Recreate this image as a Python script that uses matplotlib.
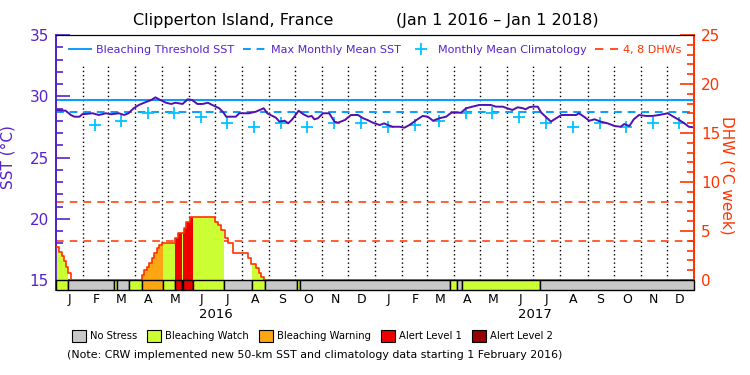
import numpy as np
import matplotlib
matplotlib.use("Agg")
import matplotlib.pyplot as plt
from matplotlib.lines import Line2D
from matplotlib.patches import Patch

# day 0 = 1 Jan 2016
sst_day = [0, 11, 17, 21, 27, 30, 42, 49, 57, 63, 72, 78, 83, 89, 95, 101, 109, 114, 118,
           126, 132, 137, 145, 151, 156, 162, 168, 174, 179, 187, 192, 195, 206, 210, 221,
           229, 238, 242, 252, 256, 262, 266, 270, 273, 278, 283, 289, 293, 296, 300, 306,
           313, 319, 323, 331, 338, 346, 352, 357, 363, 371, 376, 380, 386, 394, 399, 405,
           413, 420, 426, 432, 439, 447, 453, 464, 470, 477, 485, 498, 504, 512, 517, 523,
           529, 535, 538, 542, 546, 552, 556, 561, 567, 573, 579, 596, 599, 605, 611, 617,
           624, 632, 640, 647, 651, 657, 662, 668, 676, 683, 691, 701, 706, 714, 720, 725, 731]
sst_val = [28.88, 28.82, 28.47, 28.33, 28.33, 28.53, 28.61, 28.47, 28.61, 28.53, 28.61, 28.47,
           28.61, 29.02, 29.29, 29.47, 29.69, 29.91, 29.75, 29.47, 29.37, 29.47, 29.37, 29.75,
           29.69, 29.37, 29.37, 29.47, 29.29, 29.02, 28.66, 28.33, 28.33, 28.61, 28.61, 28.74,
           29.02, 28.61, 28.25, 27.93, 28.00, 27.79, 28.06, 28.33, 28.82, 28.55, 28.33, 28.39,
           28.12, 28.20, 28.61, 28.61, 27.93, 27.84, 28.06, 28.47, 28.47, 28.20, 28.06, 27.84,
           27.65, 27.79, 27.65, 27.51, 27.51, 27.43, 27.65, 28.06, 28.39, 28.33, 28.00, 28.20,
           28.33, 28.66, 28.66, 29.02, 29.15, 29.29, 29.29, 29.15, 29.15, 29.02, 28.88, 29.10,
           29.02, 28.93, 29.10, 29.15, 29.15, 28.66, 28.33, 27.93, 28.20, 28.47, 28.47, 28.61,
           28.33, 28.00, 28.12, 27.93, 27.79, 27.57, 27.51, 27.73, 27.57, 28.12, 28.47, 28.39,
           28.39, 28.47, 28.61, 28.39, 28.06, 27.79, 27.51, 27.46]

# monthly mean climatology Jan..Dec
clim_val = [27.50, 27.65, 28.00, 28.66, 28.66, 28.33, 27.84, 27.51, 27.79, 27.46, 27.82, 27.79]
mmm = 28.7
threshold = 29.7

dhw_day = [0, 3.4, 6.5, 9.2, 11.4, 14.1, 17.2, 98, 100.7, 103.8, 106.4, 109.5, 112.1, 115.2,
           118.2, 120.9, 136.1, 139.9, 146.4, 149.5, 153.3, 181.9, 185.7, 189.6, 193.3, 197.1,
           202.8, 220, 223.9, 229.6, 232.6, 235.3, 237.9]
dhw_val = [3.33, 2.89, 2.45, 1.97, 1.29, 0.68, 0, 0.51, 1.02, 1.36, 1.70, 2.21, 2.72, 3.23,
           3.57, 3.74, 4.25, 4.76, 5.27, 5.89, 6.46, 5.95, 5.61, 5.10, 4.25, 3.74,
           2.72, 2.21, 1.63, 1.19, 0.68, 0.27, 0]
dhw_levels = [4, 8]

# 0 no stress, 1 watch, 2 warning, 3 alert 1, 4 alert 2
status_start = [0, 14, 67, 70, 84, 98, 123, 136, 144, 146, 157, 192, 224, 240, 276, 280, 451, 460, 465, 555]
status_end = [14, 67, 70, 84, 98, 123, 136, 144, 146, 157, 192, 224, 240, 276, 280, 451, 460, 465, 555, 731]
status_code = [1, 0, 1, 0, 1, 2, 1, 3, 1, 3, 1, 0, 1, 0, 1, 0, 1, 0, 1, 0]

status_names = ["No Stress", "Bleaching Watch", "Bleaching Warning", "Alert Level 1", "Alert Level 2"]
status_colors = ["#c8c8c8", "#ccff33", "#fba612", "#ee0000", "#990000"]
month_letters = ["J", "F", "M", "A", "M", "J", "J", "A", "S", "O", "N", "D"]
years = [2016, 2017]

purple = "#5522cc"
line_purple = "#5210b0"
red = "#ff3300"
blue = "#0a9cff"
cyan = "#00c4ff"

months = np.arange("2016-01", "2018-02", dtype="datetime64[M]")
month_start = (months.astype("datetime64[D]") - np.datetime64("2016-01-01")).astype(int)

SST_LO = 15 - 10 / 12.25
DHW_LO = (SST_LO - 15) * 1.25

fig = plt.figure(figsize=(7.5, 3.75), dpi=100)
ax = fig.add_axes([56 / 750, 1 - 290 / 375, 638 / 750, 255 / 375])
ax.set_xlim(0, month_start[-1])
ax.set_ylim(SST_LO, 35)
ax2 = ax.twinx()
ax2.set_ylim(DHW_LO, 25)

# month grid
ax.vlines(month_start[1:-1], 15, 32.5, colors="black", linestyles=(0, (1, 2)), lw=1)

# SST, threshold, MMM, climatology
ax.axhline(threshold, color=blue, lw=1.5)
ax.axhline(mmm, color=blue, lw=1.4, ls=(0, (4, 3)))
clim_x = month_start[1:-1] + 14
clim_y = [clim_val[m % 12] for m in range(1, len(clim_x) + 1)]
ax.plot(clim_x, clim_y, ls="none", marker="+", ms=9, mew=1.3, color=cyan)
ax.plot(sst_day, sst_val, color=line_purple, lw=1.4)

# DHW
for lev in dhw_levels:
    ax2.axhline(lev, color=red, lw=1.1, ls=(0, (5, 4)), zorder=1)

dd = np.array(dhw_day)
dv = np.array(dhw_val)
def dhw_at(d):
    return dv[np.searchsorted(dd, d, side="right") - 1]

for s, e, c in zip(status_start, status_end, status_code):
    if c == 0:
        continue
    xs = [s] + [d for d in dhw_day if s < d < e] + [e]
    ys = [dhw_at(x) for x in xs]
    ax2.fill_between(xs, 0, ys, step="post", color=status_colors[c], lw=0, zorder=2)
ax2.step(dhw_day, dhw_val, where="post", color=red, lw=1.2, zorder=3)
ax2.plot([dhw_day[-1], month_start[-1]], [0, 0], color=red, lw=1.2, zorder=3)

# status bar
widths = [e - s for s, e in zip(status_start, status_end)]
ax2.bar(status_start, -DHW_LO, width=widths, bottom=DHW_LO, align="edge",
        color=[status_colors[c] for c in status_code], edgecolor="black", lw=1,
        zorder=4, clip_on=False)

# axes styling
ax.set_yticks([15, 20, 25, 30, 35])
ax.set_yticks(np.arange(15, 36, 1), minor=True)
ax.tick_params(axis="y", which="both", direction="in", colors=purple, labelsize=11, pad=5)
ax.tick_params(axis="y", which="major", length=10, width=1.2)
ax.tick_params(axis="y", which="minor", length=5, width=1.2)
ax.set_ylabel("SST (°C)", color=purple, fontsize=11)
ax.yaxis.set_label_coords(-0.063, 0.52)

ax2.set_yticks([0, 5, 10, 15, 20, 25])
ax2.set_yticks(np.arange(0, 26, 1), minor=True)
ax2.tick_params(axis="y", which="both", direction="in", colors=red, labelsize=11, pad=5)
ax2.tick_params(axis="y", which="major", length=10, width=1.2)
ax2.tick_params(axis="y", which="minor", length=5, width=1.2)
ax2.set_ylabel("DHW (°C week)", color=red, fontsize=11, rotation=270)
ax2.yaxis.set_label_coords(1.064, 0.45)

ax.set_xticks(month_start[:-1] + 15)
ax.set_xticklabels(month_letters * len(years), fontsize=9)
ax.tick_params(axis="x", length=0, pad=2)
for i, yr in enumerate(years):
    mid = (month_start[12 * i] + month_start[12 * (i + 1)]) / 2
    ax.text(mid, -0.098, str(yr), transform=ax.get_xaxis_transform(),
            ha="center", va="center", fontsize=9.5)

for a in (ax, ax2):
    a.spines["bottom"].set_visible(False)
    a.spines["top"].set_color("black")
    a.spines["left"].set_color(purple)
    a.spines["right"].set_color(red)
    a.spines["left"].set_linewidth(1.3)
    a.spines["right"].set_linewidth(1.3)
ax2.spines["right"].set_bounds(0, 25)

# top legend
handles = [Line2D([], [], color=blue, lw=1.4),
           Line2D([], [], color=blue, lw=1.4, ls=(0, (4, 3))),
           Line2D([], [], color=cyan, marker="+", ls="none", ms=8, mew=1.3),
           Line2D([], [], color=red, lw=1.2, ls=(0, (5, 4)))]
labels = ["Bleaching Threshold SST", "Max Monthly Mean SST", "Monthly Mean Climatology", "4, 8 DHWs"]
leg = ax2.legend(handles, labels, loc="center", bbox_to_anchor=(0.5, 0.94), ncol=4,
                 frameon=False, fontsize=8, handlelength=2.0, handletextpad=0.5,
                 columnspacing=0.8, borderpad=0)
for t, c in zip(leg.get_texts(), [purple, purple, purple, red]):
    t.set_color(c)

# bottom legend
patches = [Patch(facecolor=c, edgecolor="black", lw=0.8) for c in status_colors]
fig.legend(patches, status_names, loc="center", bbox_to_anchor=(312 / 750, 1 - 336 / 375),
           ncol=5, frameon=False, fontsize=7.2, handlelength=1.4, handleheight=1.4,
           handletextpad=0.4, columnspacing=1.0, borderpad=0)
fig.text(315 / 750, 1 - 355 / 375,
         "(Note: CRW implemented new 50-km SST and climatology data starting 1 February 2016)",
         ha="center", va="center", fontsize=7.9)

fig.text(233 / 750, 1 - 21 / 375, "Clipperton Island, France", ha="center", va="center", fontsize=11.5)
fig.text(497 / 750, 1 - 21 / 375, "(Jan 1 2016 \u2013 Jan 1 2018)", ha="center", va="center", fontsize=11.5)

fig.savefig("out.png", dpi=100)
